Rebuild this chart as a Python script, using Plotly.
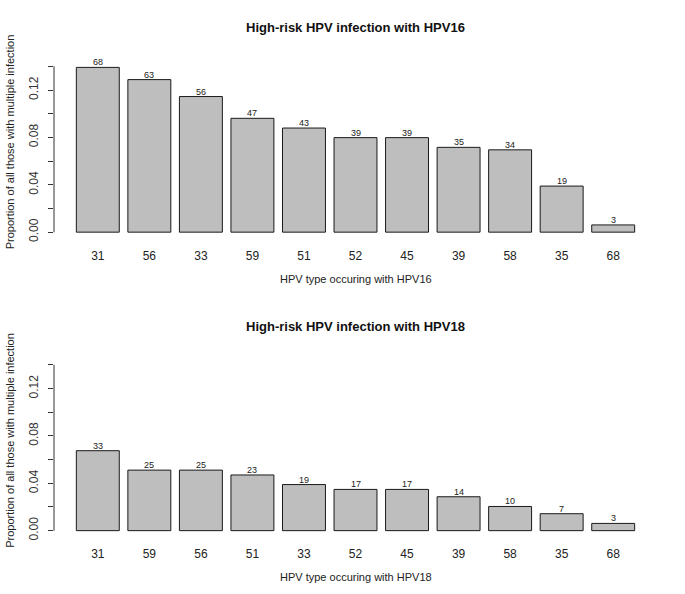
import plotly.graph_objects as go

# Data
types16 = ["31", "56", "33", "59", "51", "52", "45", "39", "58", "35", "68"]
counts16 = [68, 63, 56, 47, 43, 39, 39, 35, 34, 19, 3]
prop16 = [0.1391, 0.1288, 0.1145, 0.0961, 0.0879, 0.0798, 0.0798, 0.0716, 0.0695, 0.0389, 0.0061]

types18 = ["31", "59", "56", "51", "33", "52", "45", "39", "58", "35", "68"]
counts18 = [33, 25, 25, 23, 19, 17, 17, 14, 10, 7, 3]
prop18 = [0.0675, 0.0511, 0.0511, 0.0470, 0.0389, 0.0348, 0.0348, 0.0286, 0.0204, 0.0143, 0.0061]

ytick_vals = [0, 0.02, 0.04, 0.06, 0.08, 0.10, 0.12, 0.14]
ytick_text = ["0.00", "", "0.04", "", "0.08", "", "0.12", ""]

W, H = 685, 594
FONT = "Liberation Sans, Arial, sans-serif"
TXT = "#222222"

x_left, x_right = 54, 657
panels = [
    dict(types=types16, counts=counts16, prop=prop16, top=60, bottom=240,
         title="High-risk HPV infection with HPV16", xlab="HPV type occuring with HPV16"),
    dict(types=types18, counts=counts18, prop=prop18, top=360, bottom=540,
         title="High-risk HPV infection with HPV18", xlab="HPV type occuring with HPV18"),
]

fig = go.Figure()
annotations = []
shapes = []

for i, p in enumerate(panels, start=1):
    xa = "x" if i == 1 else f"x{i}"
    ya = "y" if i == 1 else f"y{i}"
    fig.add_trace(go.Bar(
        x=p["types"], y=p["prop"], xaxis=xa, yaxis=ya,
        marker=dict(color="#BEBEBE", line=dict(color="#1a1a1a", width=1)),
        showlegend=False, hoverinfo="x+y",
    ))
    for j, (c, v) in enumerate(zip(p["counts"], p["prop"])):
        annotations.append(dict(
            x=j, y=v, xref=xa, yref=ya, text=str(c), showarrow=False,
            xanchor="center", yanchor="bottom", yshift=-2,
            font=dict(family=FONT, size=9, color=TXT),
        ))
    ydom = [1 - p["bottom"] / H, 1 - p["top"] / H]
    xdom = [x_left / W, x_right / W]
    layout_x = dict(
        domain=xdom, type="category", categoryorder="array", categoryarray=p["types"],
        range=[-0.85, 10.85], showline=False, ticks="", showgrid=False, zeroline=False,
        ticklabelstandoff=8,
        tickfont=dict(family=FONT, size=12, color=TXT), anchor=ya,
    )
    layout_y = dict(
        domain=ydom, range=[-0.0056, 0.1456], tickvals=ytick_vals, ticktext=ytick_text,
        ticks="outside", ticklen=5, tickcolor="#333", tickwidth=1,
        showline=False, showgrid=False, zeroline=False, tickangle=-90,
        ticklabelstandoff=5,
        tickfont=dict(family=FONT, size=12, color="#333"), anchor=xa,
    )
    if i == 1:
        fig.update_layout(xaxis=layout_x, yaxis=layout_y)
    else:
        fig.update_layout(**{f"xaxis{i}": layout_x, f"yaxis{i}": layout_y})
    xr = f"{xa} domain"
    shapes.append(dict(type="line", xref=xr, yref=ya, x0=0, x1=0, y0=0, y1=0.14,
                       line=dict(color="#333", width=1)))
    cx = (x_left + x_right) / 2 / W
    annotations.append(dict(
        x=cx, y=1 - (p["top"] - 32) / H, xref="paper", yref="paper",
        text=f"<b>{p['title']}</b>", showarrow=False, xanchor="center", yanchor="middle",
        font=dict(family=FONT, size=13, color="#111"),
    ))
    annotations.append(dict(
        x=cx, y=1 - (p["bottom"] + 40) / H, xref="paper", yref="paper",
        text=p["xlab"], showarrow=False, xanchor="center", yanchor="middle",
        font=dict(family=FONT, size=11, color=TXT),
    ))
    annotations.append(dict(
        x=10 / W, y=1 - ((p["top"] + p["bottom"]) / 2 - 7) / H, xref="paper", yref="paper",
        text="Proportion of all those with multiple infection", showarrow=False,
        textangle=-90, xanchor="center", yanchor="middle",
        font=dict(family=FONT, size=11, color=TXT),
    ))

fig.update_layout(
    width=W, height=H, margin=dict(l=0, r=0, t=0, b=0),
    paper_bgcolor="white", plot_bgcolor="white",
    bargap=1 - 1 / 1.2, annotations=annotations, shapes=shapes,
)

fig.write_html("out.html", config={"displayModeBar": False},
               post_script="document.body.style.margin='0';document.body.style.padding='0';")
